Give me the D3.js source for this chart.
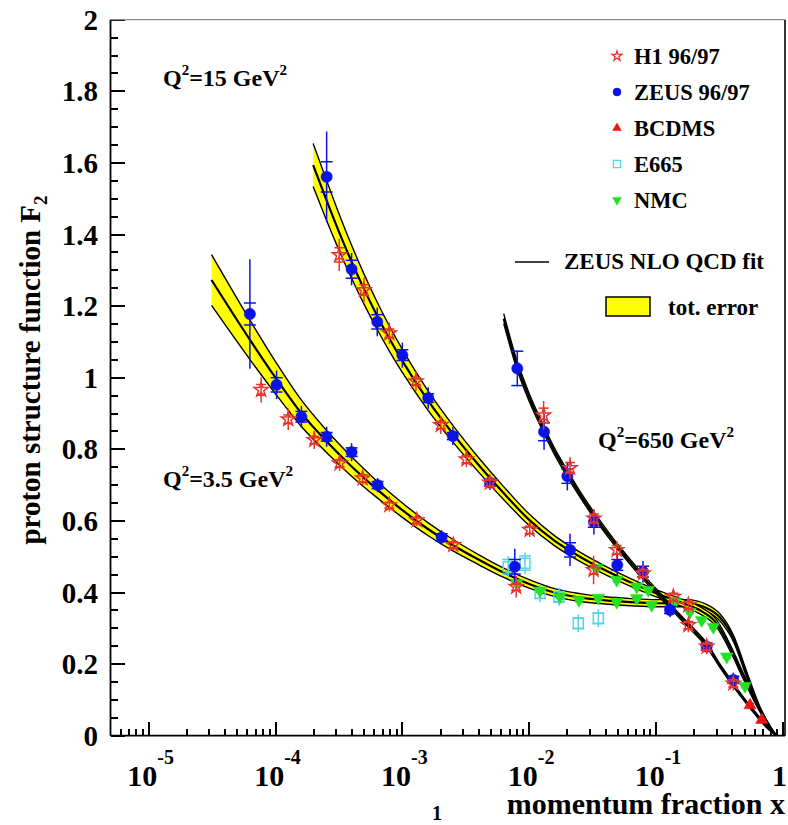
<!DOCTYPE html>
<html>
<head>
<meta charset="utf-8">
<script src="https://cdn.jsdelivr.net/npm/d3@7"></script>
<style>
  body { margin: 0; background: #fff; }
  svg text { font-family: "Liberation Serif", "Times New Roman", serif; font-weight: bold; fill: #000; }
</style>
</head>
<body>
<svg id="chart" width="788" height="825"></svg>
<script>
// ---- axis ticks ----
const xMajorTicks = [1e-5, 1e-4, 1e-3, 1e-2, 1e-1, 1];
const xTickExponents = ["-5", "-4", "-3", "-2", "-1", ""];
const yMajorTicks = [0, 0.2, 0.4, 0.6, 0.8, 1, 1.2, 1.4, 1.6, 1.8, 2];
const yTickLabels = ["0", "0.2", "0.4", "0.6", "0.8", "1", "1.2", "1.4", "1.6", "1.8", "2"];

// ---- ZEUS NLO QCD fit: [x, F2, half width of total error band] ----
const fitQ2_3p5 = [
  [3.13e-5, 1.273, 0.071], [6.31e-5, 1.105, 0.055], [1e-4, 1.00, 0.045], [1.58e-4, 0.903, 0.037],
  [2.51e-4, 0.823, 0.031], [3.98e-4, 0.752, 0.027], [6.31e-4, 0.688, 0.023], [1e-3, 0.630, 0.020],
  [1.58e-3, 0.578, 0.018], [2.51e-3, 0.532, 0.016], [3.98e-3, 0.492, 0.014], [6.31e-3, 0.455, 0.013],
  [0.01, 0.424, 0.012], [0.0158, 0.400, 0.011], [0.0251, 0.386, 0.011], [0.0398, 0.378, 0.010],
  [0.0631, 0.373, 0.010], [0.1, 0.370, 0.010], [0.175, 0.370, 0.010], [0.25, 0.357, 0.010],
  [0.32, 0.330, 0.010], [0.41, 0.270, 0.009], [0.52, 0.170, 0.008], [0.66, 0.075, 0.006],
  [0.84, 0.010, 0.003], [0.90, 0.0, 0.0]
];
const fitQ2_15 = [
  [1.98e-4, 1.594, 0.060], [2.51e-4, 1.498, 0.056], [3.16e-4, 1.408, 0.051], [3.98e-4, 1.324, 0.046],
  [5.01e-4, 1.246, 0.042], [6.31e-4, 1.174, 0.038], [7.94e-4, 1.108, 0.035], [1e-3, 1.047, 0.032],
  [1.58e-3, 0.938, 0.027], [2.51e-3, 0.843, 0.023], [3.98e-3, 0.757, 0.020], [6.31e-3, 0.677, 0.018],
  [0.01, 0.603, 0.016], [0.0158, 0.545, 0.014], [0.0251, 0.500, 0.013], [0.0398, 0.462, 0.012],
  [0.0631, 0.428, 0.011], [0.1, 0.398, 0.010], [0.158, 0.372, 0.010], [0.22, 0.351, 0.010],
  [0.30, 0.314, 0.010], [0.38, 0.249, 0.009], [0.49, 0.165, 0.008], [0.62, 0.090, 0.006],
  [0.79, 0.025, 0.003], [0.885, 0.0, 0.0]
];
const fitQ2_650 = [
  [6.3e-3, 1.165, 0.014], [7.94e-3, 1.040, 0.012], [0.01, 0.945, 0.011], [0.0126, 0.866, 0.010],
  [0.0158, 0.795, 0.009], [0.02, 0.732, 0.009], [0.0251, 0.675, 0.008], [0.0316, 0.622, 0.008],
  [0.0398, 0.573, 0.008], [0.0501, 0.527, 0.007], [0.0631, 0.484, 0.007], [0.0794, 0.443, 0.007],
  [0.1, 0.404, 0.007], [0.126, 0.366, 0.006], [0.158, 0.329, 0.006], [0.2, 0.292, 0.006],
  [0.251, 0.253, 0.006], [0.316, 0.198, 0.005], [0.398, 0.147, 0.005], [0.501, 0.099, 0.004],
  [0.631, 0.055, 0.004], [0.746, 0.025, 0.003], [0.895, 0.0, 0.0]
];

// ---- measurements: [x, F2, stat. error, total error] ----
const h1Data = [
  [7.7e-5, 0.966, 0.015, 0.035], [1.26e-4, 0.884, 0.012, 0.030], [2.02e-4, 0.826, 0.010, 0.025],
  [3.2e-4, 0.761, 0.010, 0.022], [4.86e-4, 0.719, 0.010, 0.020], [7.9e-4, 0.644, 0.008, 0.018],
  [1.3e-3, 0.602, 0.008, 0.016], [2.52e-3, 0.533, 0.008, 0.015], [7.9e-3, 0.416, 0.010, 0.030],
  [3.18e-4, 1.343, 0.020, 0.045], [4.98e-4, 1.245, 0.015, 0.035], [7.9e-4, 1.124, 0.012, 0.030],
  [1.28e-3, 0.99, 0.010, 0.027], [2.01e-3, 0.868, 0.010, 0.025], [3.2e-3, 0.772, 0.010, 0.022],
  [4.9e-3, 0.707, 0.010, 0.020], [0.0101, 0.575, 0.010, 0.020], [0.0322, 0.463, 0.012, 0.040],
  [0.013, 0.895, 0.020, 0.040], [0.021, 0.748, 0.015, 0.030], [0.0324, 0.607, 0.012, 0.025],
  [0.049, 0.519, 0.012, 0.025], [0.079, 0.454, 0.010, 0.020], [0.137, 0.388, 0.010, 0.020],
  [0.18, 0.365, 0.010, 0.020], [0.18, 0.309, 0.010, 0.020], [0.251, 0.249, 0.010, 0.020],
  [0.407, 0.146, 0.010, 0.020]
];
const zeusData = [
  [6.28e-5, 1.178, 0.031, 0.153], [1.02e-4, 0.98, 0.020, 0.040], [1.6e-4, 0.891, 0.015, 0.030],
  [2.53e-4, 0.835, 0.012, 0.028], [3.98e-4, 0.792, 0.012, 0.025], [6.38e-4, 0.700, 0.010, 0.020],
  [2.04e-3, 0.554, 0.010, 0.020], [7.7e-3, 0.472, 0.020, 0.050],
  [2.53e-4, 1.561, 0.042, 0.127], [3.98e-4, 1.303, 0.025, 0.045], [6.34e-4, 1.156, 0.020, 0.040],
  [1e-3, 1.063, 0.015, 0.035], [1.6e-3, 0.943, 0.012, 0.030], [2.5e-3, 0.837, 0.010, 0.025],
  [4.9e-3, 0.707, 0.010, 0.020], [0.021, 0.519, 0.020, 0.045], [0.0495, 0.477, 0.015, 0.030],
  [8.06e-3, 1.026, 0.048, 0.050], [0.0131, 0.849, 0.025, 0.050], [0.02, 0.725, 0.020, 0.040],
  [0.0324, 0.597, 0.015, 0.035], [0.079, 0.458, 0.015, 0.030], [0.129, 0.351, 0.010, 0.020],
  [0.251, 0.249, 0.010, 0.020], [0.407, 0.156, 0.010, 0.020]
];
const bcdmsData = [
  [0.551, 0.085, 0.005, 0.008], [0.682, 0.044, 0.004, 0.006]
];
const e665Data = [
  [6.84e-3, 0.472, 0.020, 0.030], [9.27e-3, 0.482, 0.020, 0.030], [0.0122, 0.398, 0.015, 0.025],
  [0.0172, 0.388, 0.015, 0.025], [0.0244, 0.314, 0.015, 0.025], [0.0351, 0.328, 0.015, 0.025]
];
const nmcData = [
  [7.97e-3, 0.426, 0.005, 0.008], [0.01217, 0.405, 0.005, 0.008], [0.0175, 0.388, 0.005, 0.008],
  [0.0247, 0.379, 0.005, 0.008], [0.0351, 0.385, 0.005, 0.008], [0.049, 0.374, 0.005, 0.008],
  [0.0705, 0.384, 0.005, 0.008], [0.0925, 0.365, 0.005, 0.008],
  [0.034, 0.468, 0.005, 0.008], [0.049, 0.435, 0.005, 0.008], [0.0705, 0.416, 0.005, 0.008],
  [0.0869, 0.407, 0.005, 0.008],
  [0.141, 0.374, 0.005, 0.008], [0.185, 0.346, 0.005, 0.008], [0.229, 0.323, 0.005, 0.008],
  [0.283, 0.304, 0.005, 0.008], [0.361, 0.221, 0.005, 0.008], [0.503, 0.139, 0.005, 0.008]
];

// ---- legend entries ----
const legendLabels = ["H1 96/97", "ZEUS 96/97", "BCDMS", "E665", "NMC"];

// ---------------------------------------------------------------
const svg = d3.select("#chart");
const frame = { left: 110.5, right: 785, top: 19.7, bottom: 735.7 };

const x = d3.scaleLog().domain([5e-6, 1.04]).range([frame.left, frame.right]);
const y = d3.scaleLinear().domain([0, 2]).range([frame.bottom, frame.top]);

svg.append("clipPath").attr("id", "plotclip")
  .append("rect").attr("x", frame.left).attr("y", frame.top)
  .attr("width", frame.right - frame.left).attr("height", frame.bottom - frame.top);
const plot = svg.append("g").attr("clip-path", "url(#plotclip)");

// ---- fit curves with yellow error bands ----
const bandArea = d3.area().curve(d3.curveMonotoneX)
  .x(d => x(d[0])).y0(d => y(d[1] - d[2])).y1(d => y(d[1] + d[2]));
const edgeLine = sign => d3.line().curve(d3.curveMonotoneX)
  .x(d => x(d[0])).y(d => y(d[1] + sign * d[2]));
const centerLine = d3.line().curve(d3.curveMonotoneX).x(d => x(d[0])).y(d => y(d[1]));

[fitQ2_3p5, fitQ2_15, fitQ2_650].forEach(fit => {
  plot.append("path").attr("d", bandArea(fit)).attr("fill", "#ffff00").attr("stroke", "none");
  plot.append("path").attr("d", edgeLine(1)(fit)).attr("fill", "none").attr("stroke", "#000").attr("stroke-width", 1.4);
  plot.append("path").attr("d", edgeLine(-1)(fit)).attr("fill", "none").attr("stroke", "#000").attr("stroke-width", 1.4);
  plot.append("path").attr("d", centerLine(fit)).attr("fill", "none").attr("stroke", "#000").attr("stroke-width", 2.2);
});

// ---- data points with error bars ----
function drawSeries(data, opts) {
  const g = plot.append("g");
  const pts = g.selectAll("g.pt").data(data).join("g").attr("class", "pt")
    .attr("transform", d => `translate(${x(d[0])},${y(d[1])})`);
  // total error: plain vertical line
  pts.append("line")
    .attr("x1", 0).attr("x2", 0)
    .attr("y1", d => y(d[1] + d[3]) - y(d[1]))
    .attr("y2", d => y(d[1] - d[3]) - y(d[1]))
    .attr("stroke", opts.color).attr("stroke-width", 1.5);
  // statistical error: end bars
  [1, -1].forEach(s => {
    pts.append("line")
      .attr("x1", -opts.bar).attr("x2", opts.bar)
      .attr("y1", d => y(d[1] + s * d[2]) - y(d[1]))
      .attr("y2", d => y(d[1] + s * d[2]) - y(d[1]))
      .attr("stroke", opts.color).attr("stroke-width", 1.5);
  });
  pts.append("path")
    .attr("d", d3.symbol().type(opts.type).size(opts.size)())
    .attr("transform", opts.rotate ? `rotate(${opts.rotate})` : null)
    .attr("fill", opts.fill ? opts.color : "#fff")
    .attr("fill-opacity", opts.fill ? 1 : 0)
    .attr("stroke", opts.color).attr("stroke-width", opts.fill ? 0.5 : 1.5);
}

const styles = {
  h1:    { color: "#e8342a", type: d3.symbolStar, size: 60, fill: false, bar: 5 },
  zeus:  { color: "#0b12e6", type: d3.symbolCircle, size: 100, fill: true, bar: 6 },
  bcdms: { color: "#ee1111", type: d3.symbolTriangle, size: 65, fill: true, bar: 4 },
  e665:  { color: "#55d4e6", type: d3.symbolSquare, size: 100, fill: false, bar: 6 },
  nmc:   { color: "#22e022", type: d3.symbolTriangle, size: 70, fill: true, rotate: 180, bar: 4 }
};

drawSeries(e665Data, styles.e665);
drawSeries(nmcData, styles.nmc);
drawSeries(zeusData, styles.zeus);
drawSeries(h1Data, styles.h1);
drawSeries(bcdmsData, styles.bcdms);

// ---- axis ticks (pointing into the frame), placed with the scales ----
const minorX = [];
for (let e = -6; e <= 0; e++) {
  for (let m = 2; m <= 9; m++) {
    const v = m * Math.pow(10, e);
    if (v >= 5e-6 && v <= 1.04) minorX.push(v);
  }
}
const minorY = d3.range(0, 2.001, 0.05).filter(v => Math.abs(v / 0.2 - Math.round(v / 0.2)) > 1e-6);

const tickLayer = svg.append("g").attr("stroke", "#000").attr("stroke-width", 2)
  .attr("shape-rendering", "crispEdges");
tickLayer.selectAll("line.xmaj").data(xMajorTicks).join("line").attr("class", "xmaj")
  .attr("x1", d => x(d)).attr("x2", d => x(d))
  .attr("y1", frame.bottom).attr("y2", frame.bottom - 14);
tickLayer.selectAll("line.xmin").data(minorX).join("line").attr("class", "xmin")
  .attr("x1", d => x(d)).attr("x2", d => x(d))
  .attr("y1", frame.bottom).attr("y2", frame.bottom - 7);
tickLayer.selectAll("line.ymaj").data(yMajorTicks).join("line").attr("class", "ymaj")
  .attr("x1", frame.left).attr("x2", frame.left + 14)
  .attr("y1", d => y(d)).attr("y2", d => y(d));
tickLayer.selectAll("line.ymin").data(minorY).join("line").attr("class", "ymin")
  .attr("x1", frame.left).attr("x2", frame.left + 7)
  .attr("y1", d => y(d)).attr("y2", d => y(d));

// frame
const frameLine = (x1, y1, x2, y2, color, w) => svg.append("line")
  .attr("x1", x1).attr("y1", y1).attr("x2", x2).attr("y2", y2)
  .attr("stroke", color).attr("stroke-width", w);
frameLine(frame.left, frame.bottom, frame.right, frame.bottom, "#000", 1.8);
frameLine(frame.left, frame.top, frame.left, frame.bottom, "#000", 1.8);
frameLine(frame.right, frame.top, frame.right, frame.bottom, "#000", 1.6);
frameLine(frame.left, frame.top, frame.right, frame.top, "#888", 1.2);

// tick labels
xMajorTicks.forEach((v, i) => {
  if (xTickExponents[i]) {
    const t = svg.append("text").attr("x", x(v) + 2).attr("y", 786)
      .attr("text-anchor", "middle").attr("font-size", 30);
    t.append("tspan").text("10");
    t.append("tspan").attr("dy", -22).attr("font-size", 20).text(xTickExponents[i]);
  } else {
    svg.append("text").attr("x", 787).attr("y", 786)
      .attr("text-anchor", "end").attr("font-size", 30).text("1");
  }
});
yMajorTicks.forEach((v, i) => {
  svg.append("text").attr("x", 98).attr("y", y(v) + 10)
    .attr("text-anchor", "end").attr("font-size", 29).text(yTickLabels[i]);
});

// axis titles
const yTitle = svg.append("text")
  .attr("transform", `translate(40,370) rotate(-90)`)
  .attr("text-anchor", "middle").attr("font-size", 29);
yTitle.append("tspan").text("proton structure function F");
yTitle.append("tspan").attr("dy", 7).attr("font-size", 19).text("2");

svg.append("text").attr("x", 785).attr("y", 814).attr("text-anchor", "end")
  .attr("font-size", 30).text("momentum fraction x");
svg.append("text").attr("x", 437).attr("y", 820).attr("text-anchor", "middle")
  .attr("font-size", 20).text("1");

// Q² labels
function q2Label(px, py, value) {
  const t = svg.append("text").attr("x", px).attr("y", py).attr("font-size", 24);
  t.append("tspan").text("Q");
  t.append("tspan").attr("dy", -11).attr("font-size", 15).text("2");
  t.append("tspan").attr("dy", 11).text("=" + value + " GeV");
  t.append("tspan").attr("dy", -11).attr("font-size", 15).text("2");
}
q2Label(163, 86, "15");
q2Label(163, 487, "3.5");
q2Label(598, 448, "650");

// ---- legend ----
const legendStyles = [styles.h1, styles.zeus, styles.bcdms, styles.e665, styles.nmc];
legendLabels.forEach((label, i) => {
  const ly = 56 + i * 36;
  const st = legendStyles[i];
  svg.append("path")
    .attr("d", d3.symbol().type(st.type).size(st.size * 0.5)())
    .attr("transform", `translate(617,${ly})` + (st.rotate ? ` rotate(${st.rotate})` : ""))
    .attr("fill", st.fill ? st.color : "none")
    .attr("stroke", st.color).attr("stroke-width", st.fill ? 0.5 : 1.3);
  svg.append("text").attr("x", 634).attr("y", ly + 8).attr("font-size", 22.5).text(label);
});
svg.append("line").attr("x1", 515).attr("x2", 549).attr("y1", 262).attr("y2", 262)
  .attr("stroke", "#000").attr("stroke-width", 1.6);
svg.append("text").attr("x", 564).attr("y", 269).attr("font-size", 23).text("ZEUS NLO QCD fit");
svg.append("rect").attr("x", 606).attr("y", 297).attr("width", 44).attr("height", 19)
  .attr("fill", "#ffff00").attr("stroke", "#000").attr("stroke-width", 1.5);
svg.append("text").attr("x", 668).attr("y", 315).attr("font-size", 23).text("tot. error");
</script>
</body>
</html>
